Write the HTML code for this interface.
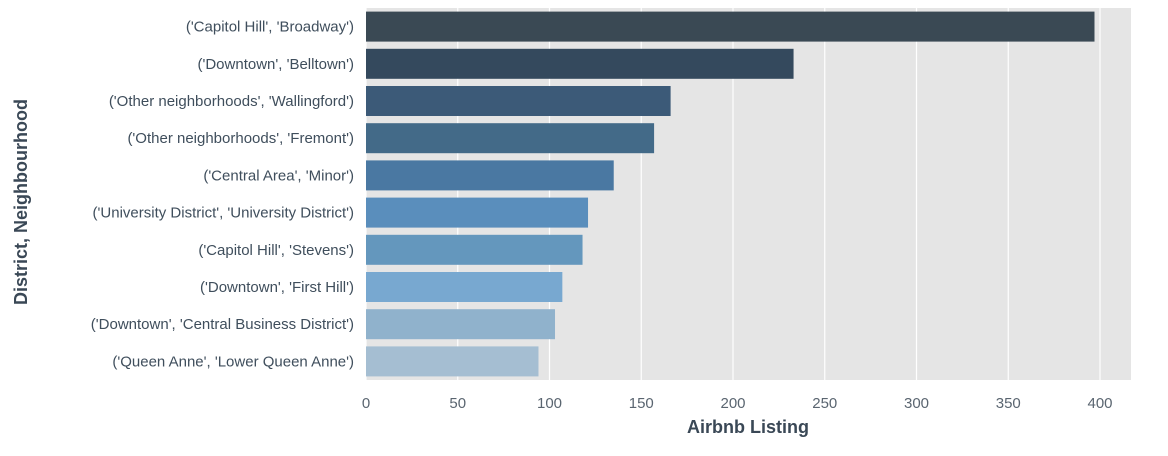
<!DOCTYPE html>
<html><head><meta charset="utf-8"><style>
body{margin:0;background:#fff;width:1168px;height:451px;overflow:hidden;font-family:"Liberation Sans",sans-serif}
</style></head><body>
<svg id="chart" width="1168" height="451" xmlns="http://www.w3.org/2000/svg"></svg>
<script>
const categories=["('Capitol Hill', 'Broadway')","('Downtown', 'Belltown')","('Other neighborhoods', 'Wallingford')","('Other neighborhoods', 'Fremont')","('Central Area', 'Minor')","('University District', 'University District')","('Capitol Hill', 'Stevens')","('Downtown', 'First Hill')","('Downtown', 'Central Business District')","('Queen Anne', 'Lower Queen Anne')"];
const values=[397,233,166,157,135,121,118,107,103,94];
const tickValues=[0,50,100,150,200,250,300,350,400];
const colors=["#3a4954","#34495d","#3c5a78","#436a88","#4a78a2","#5a8ebc","#6497bd","#78a8d0","#90b2cc","#a5bed2"];
const svg=document.getElementById('chart');
const NS='http://www.w3.org/2000/svg';
const L=366,R=1131,T=8,B=380;
const xs=v=>L+v*1.835;
const step=(B-T)/categories.length;
function mk(tag,attrs){const e=document.createElementNS(NS,tag);for(const k in attrs)e.setAttribute(k,attrs[k]);svg.appendChild(e);return e;}
const bg=mk('rect',{x:L,y:T,width:R-L,height:B-T,fill:'#e5e5e5'});


tickValues.forEach(t=>{
 const g=mk('line',{x1:xs(t),x2:xs(t),y1:T,y2:B,stroke:'#fff','stroke-width':1.2});
 
 
 const tx=mk('text',{x:xs(t),y:408,'text-anchor':'middle','font-size':15,fill:'#5a6570'});
 tx.textContent=t;
 
 
});
categories.forEach((c,i)=>{
 const cy=T+step*(i+0.5);
 const b=mk('rect',{x:xs(0),y:cy-15,width:xs(values[i])-xs(0),height:30,fill:colors[i]});
 
 
 const tx=mk('text',{x:354,y:cy+5,'text-anchor':'end','font-size':15,fill:'#3f4e5c'});
 tx.textContent=c;
 
 
});
const xt=mk('text',{x:748,y:433,'text-anchor':'middle','font-size':18,'font-weight':'bold',fill:'#3a4856'});
xt.textContent='Airbnb Listing';


const yt=mk('text',{x:0,y:0,'text-anchor':'middle','font-size':18,'font-weight':'bold',fill:'#3a4856',transform:'translate(27,202) rotate(-90)'});
yt.textContent='District, Neighbourhood';


</script>
</body></html>
